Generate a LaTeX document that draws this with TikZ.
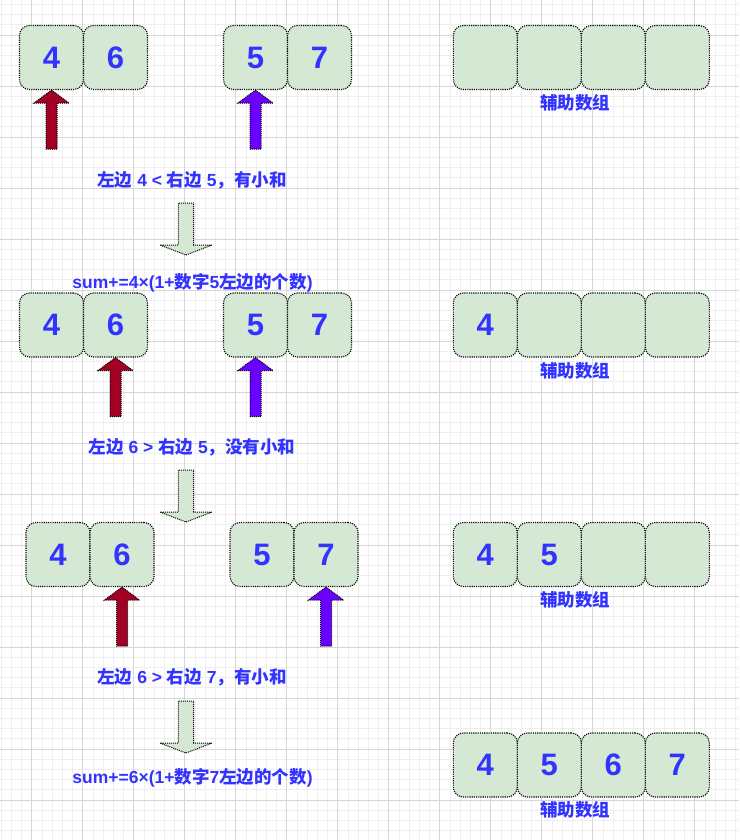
\documentclass[tikz,border=0pt]{standalone}
\usepackage{fontspec}
\setmainfont{Liberation Sans}
\newfontfamily\cjk{Noto Sans CJK SC}
\definecolor{cellfill}{HTML}{D5E8D4}
\definecolor{txtblue}{HTML}{3333FF}
\definecolor{arrred}{HTML}{A20025}
\definecolor{arrviolet}{HTML}{6A00FF}
\definecolor{gridmajor}{HTML}{D6D6D6}
\definecolor{gridminor}{HTML}{EEEEEE}
\tikzset{
  cell/.style={rectangle, rounded corners=10pt, minimum width=64pt, minimum height=64pt,
    inner sep=0pt, fill=cellfill, draw=black, line width=1.1pt,
    dash pattern=on 1.1pt off 1.1pt, text=txtblue, font=\fontsize{31}{31}\selectfont\bfseries},
  lbl/.style={text=txtblue, font=\fontsize{17.5}{20}\selectfont\bfseries, inner sep=0pt},
  shapeline/.style={draw=black, line width=1pt, dash pattern=on 1pt off 1pt},
  minorgrid/.style={draw=gridminor, line width=0.8pt},
  majorgrid/.style={draw=gridmajor, line width=0.8pt},
}
\newcommand\uparrowshape[2]{%
  \draw[shapeline, fill=#2] (#1) -- ++(17.5,13) -- ++(-12,0) -- ++(0,46) -- ++(-11,0)
    -- ++(0,-46) -- ++(-12,0) -- cycle;}
\newcommand\downarrowshape[1]{%
  \draw[shapeline, fill=cellfill] (#1) -- ++(26,-10) -- ++(-18.3,0) -- ++(0,-42) -- ++(-15.4,0)
    -- ++(0,42) -- ++(-18.3,0) -- cycle;}
\begin{document}
\begin{tikzpicture}[x=1pt, y=-1pt]
\useasboundingbox (0,0) rectangle (739,840);
\fill[white] (0,0) rectangle (739,840);
% grid
\foreach \k in {0,...,72} \draw[minorgrid] (1.1+10.2*\k,0) -- (1.1+10.2*\k,840);
\foreach \k in {0,...,82} \draw[minorgrid] (0,4.4+10.2*\k) -- (739,4.4+10.2*\k);
\foreach \k in {0,...,13} \draw[majorgrid] (31.7+51*\k,0) -- (31.7+51*\k,840);
\foreach \k in {0,...,15} \draw[majorgrid] (0,35+51*\k) -- (739,35+51*\k);

% ---------- row 1 ----------
\node[cell] (a1) at (51.5,57.5) {4};
\node[cell] (b1) at (115.5,57.5) {6};
\node[cell] (c1) at (255.5,57.5) {5};
\node[cell] (d1) at (319.5,57.5) {7};
\node[cell] (h11) at (485.3,57.5) {};
\node[cell] (h12) at (549.3,57.5) {};
\node[cell] (h13) at (613.3,57.5) {};
\node[cell] (h14) at (677.3,57.5) {};
\node[lbl] (aux1) at (575,103) {\cjk 辅助数组};
\uparrowshape{a1.south}{arrred}
\uparrowshape{c1.south}{arrviolet}
\node[lbl] (t1) at (192,180) {{\cjk 左边} 4 < {\cjk 右边} 5{\cjk ，有小和}};
\coordinate (dt1) at (186,255);
\downarrowshape{dt1}
\node[lbl] (t2) at (192.5,282.5) {sum+=4×(1+{\cjk 数字}5{\cjk 左边的个数})};

% ---------- row 2 ----------
\node[cell] (a2) at (51.5,325) {4};
\node[cell] (b2) at (115.5,325) {6};
\node[cell] (c2) at (255.5,325) {5};
\node[cell] (d2) at (319.5,325) {7};
\node[cell] (h21) at (485.3,325) {4};
\node[cell] (h22) at (549.3,325) {};
\node[cell] (h23) at (613.3,325) {};
\node[cell] (h24) at (677.3,325) {};
\node[lbl] (aux2) at (575,371) {\cjk 辅助数组};
\uparrowshape{b2.south}{arrred}
\uparrowshape{c2.south}{arrviolet}
\node[lbl] (t3) at (192,447) {{\cjk 左边} 6 > {\cjk 右边} 5{\cjk ，没有小和}};
\coordinate (dt2) at (186,522);
\downarrowshape{dt2}

% ---------- row 3 ----------
\node[cell] (a3) at (58,554.5) {4};
\node[cell] (b3) at (122,554.5) {6};
\node[cell] (c3) at (262,554.5) {5};
\node[cell] (d3) at (326,554.5) {7};
\node[cell] (h31) at (485.3,554.5) {4};
\node[cell] (h32) at (549.3,554.5) {5};
\node[cell] (h33) at (613.3,554.5) {};
\node[cell] (h34) at (677.3,554.5) {};
\node[lbl] (aux3) at (575,600) {\cjk 辅助数组};
\uparrowshape{b3.south}{arrred}
\uparrowshape{d3.south}{arrviolet}
\node[lbl] (t4) at (192,677) {{\cjk 左边} 6 > {\cjk 右边} 7{\cjk ，有小和}};
\coordinate (dt3) at (186,753);
\downarrowshape{dt3}
\node[lbl] (t5) at (192.5,778) {sum+=6×(1+{\cjk 数字}7{\cjk 左边的个数})};

% ---------- row 4 (aux only) ----------
\node[cell] (h41) at (485.3,765) {4};
\node[cell] (h42) at (549.3,765) {5};
\node[cell] (h43) at (613.3,765) {6};
\node[cell] (h44) at (677.3,765) {7};
\node[lbl] (aux4) at (575,810) {\cjk 辅助数组};
\end{tikzpicture}
\end{document}
